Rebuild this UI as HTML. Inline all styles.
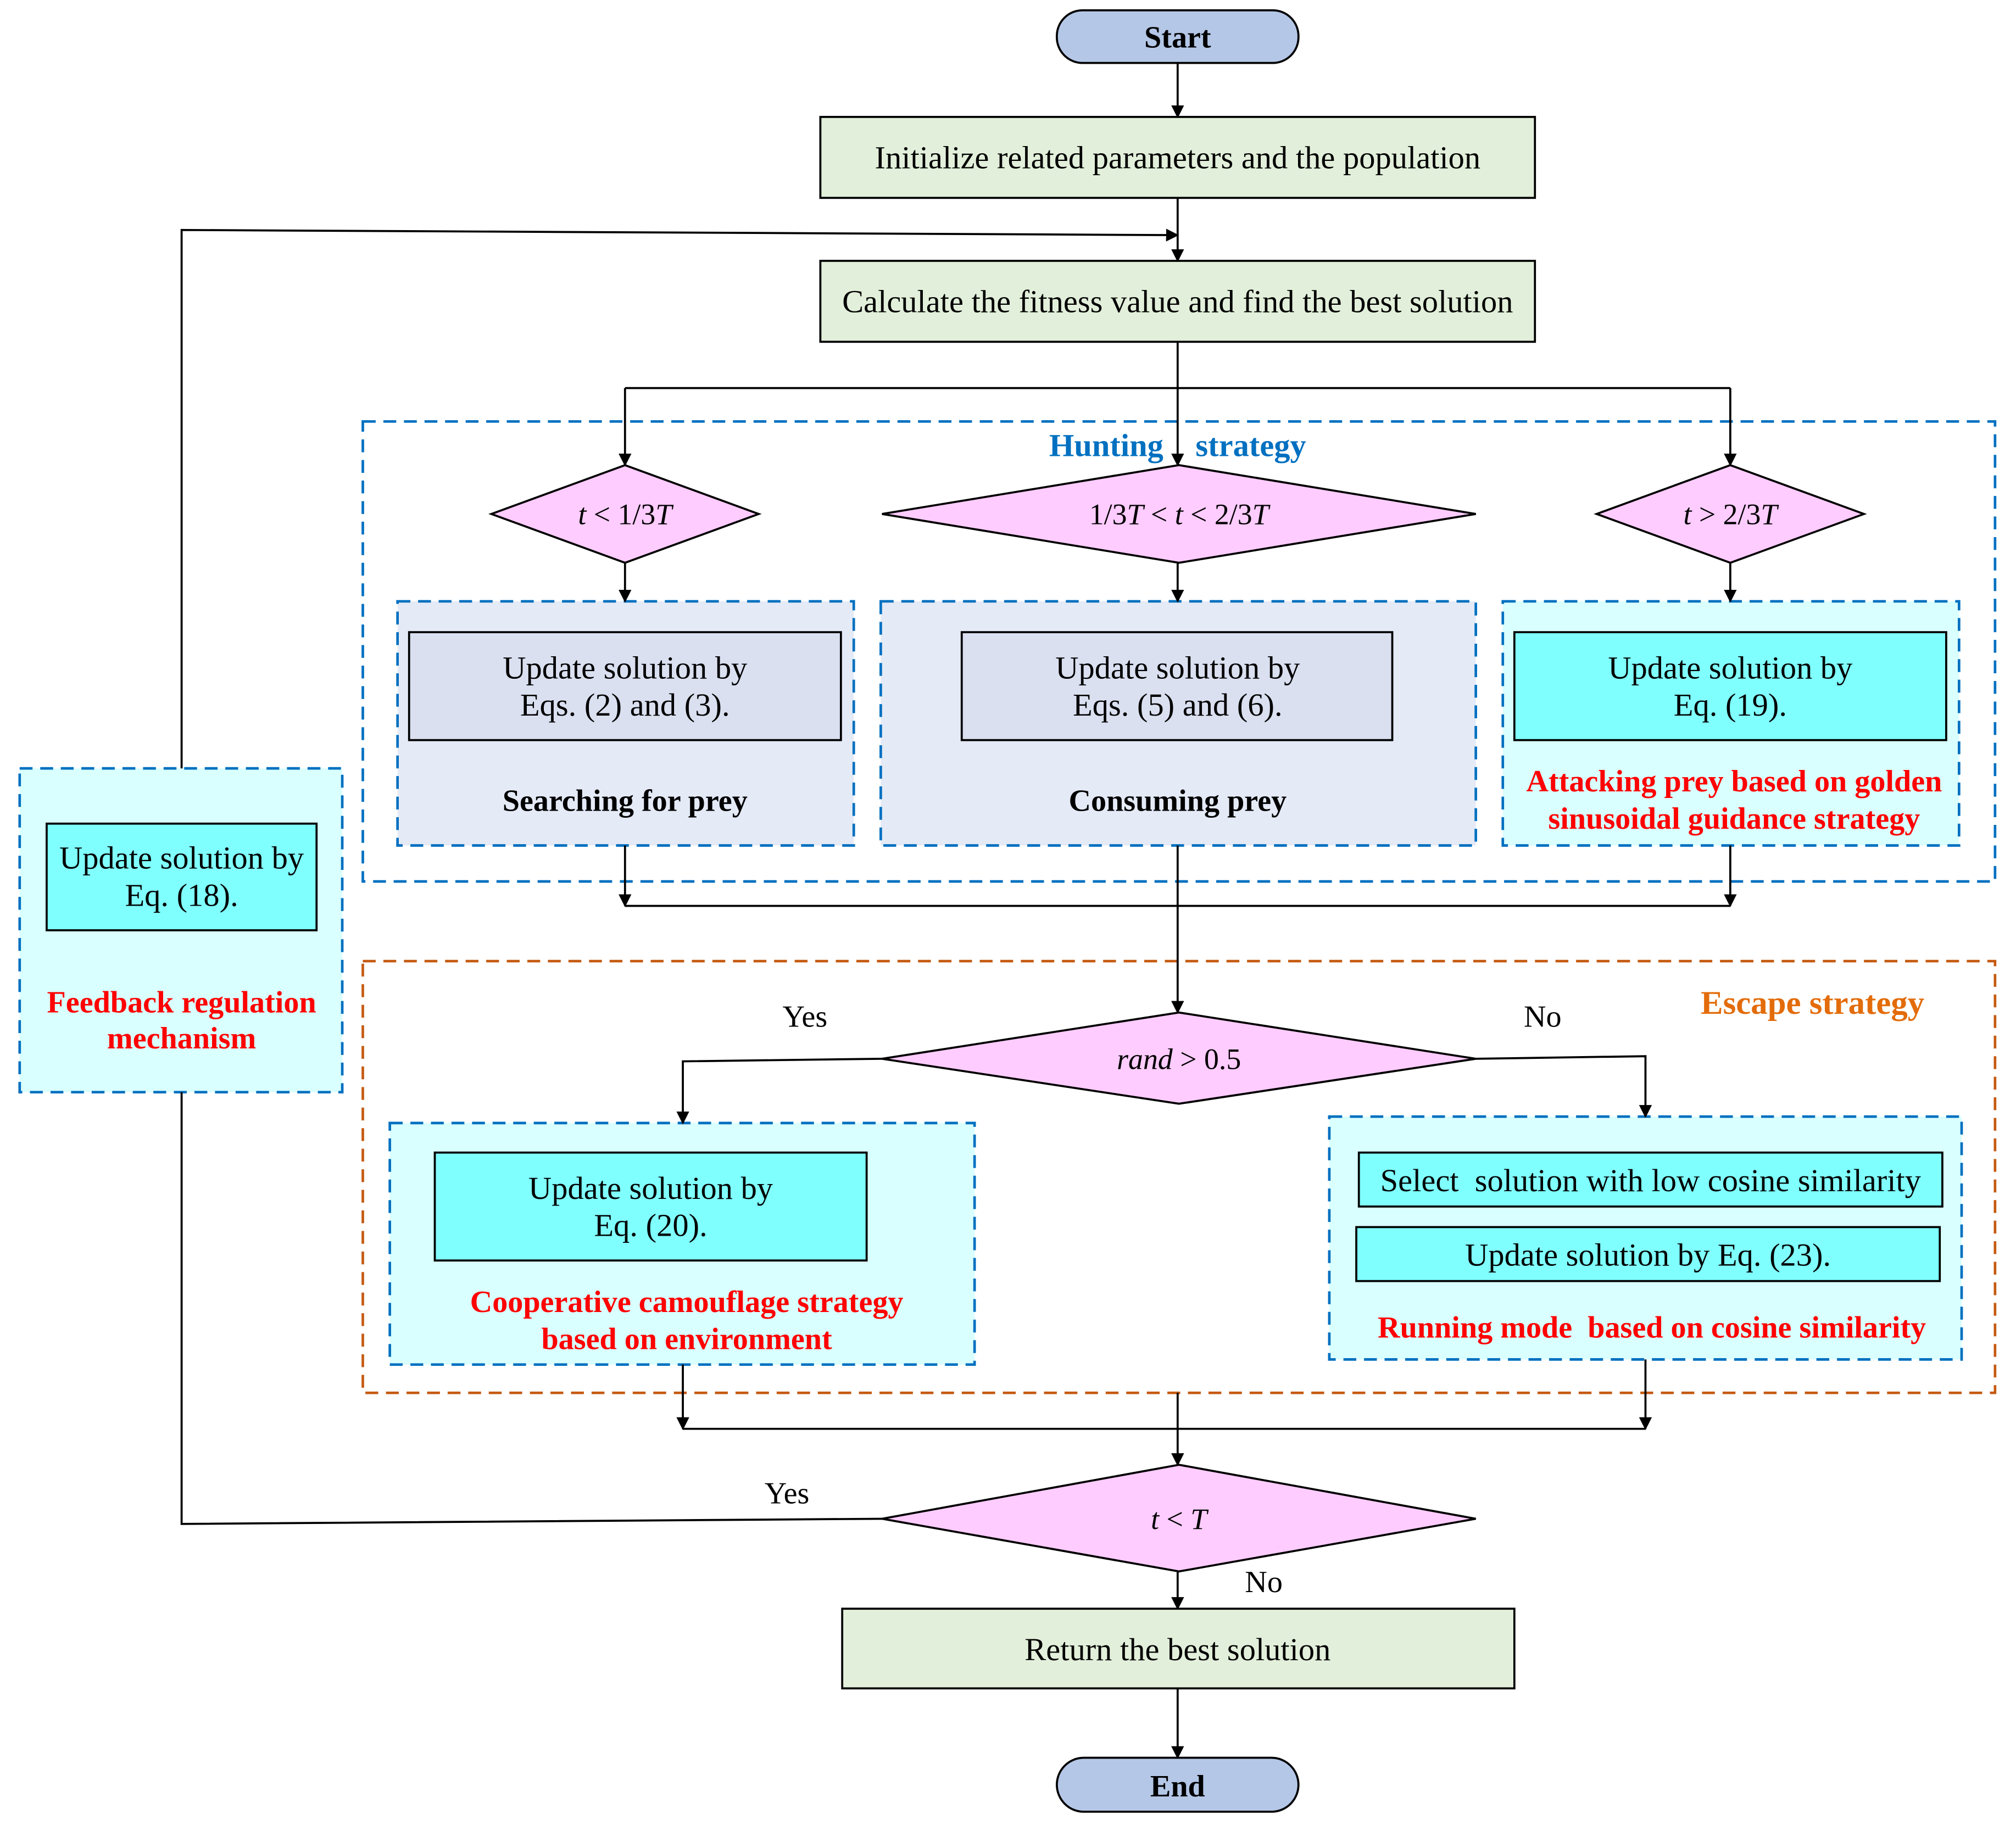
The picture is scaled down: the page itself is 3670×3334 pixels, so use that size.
<!DOCTYPE html>
<html><head><meta charset="utf-8"><style>html,body{margin:0;padding:0;background:#fff}svg{display:block}</style></head>
<body>
<svg width="3670" height="3334" viewBox="0 0 1568 1425" xmlns="http://www.w3.org/2000/svg" font-family="'Liberation Serif', serif" font-size="25">
<defs><marker id="a" markerWidth="10" markerHeight="10" refX="9" refY="5" orient="auto" markerUnits="userSpaceOnUse"><path d="M0,0 L10,5 L0,10 z" fill="#000"/></marker></defs>
<g stroke="#000" stroke-width="1.6" fill="none">
<rect x="282" y="328" width="1270" height="358" stroke="#0070c0" stroke-dasharray="10,6" stroke-width="2"/>
<rect x="282" y="748" width="1270" height="336" stroke="#c55a11" stroke-dasharray="10,6" stroke-width="2"/>
<rect x="309" y="468" width="355" height="190" fill="#e4eaf6" stroke="#0070c0" stroke-dasharray="10,6" stroke-width="2"/>
<rect x="685" y="468" width="463" height="190" fill="#e4eaf6" stroke="#0070c0" stroke-dasharray="10,6" stroke-width="2"/>
<rect x="1169" y="468" width="355" height="190" fill="#d9ffff" stroke="#0070c0" stroke-dasharray="10,6" stroke-width="2"/>
<rect x="15" y="598" width="251" height="252" fill="#d9ffff" stroke="#0070c0" stroke-dasharray="10,6" stroke-width="2"/>
<rect x="303" y="874" width="455" height="188" fill="#d9ffff" stroke="#0070c0" stroke-dasharray="10,6" stroke-width="2"/>
<rect x="1034" y="869" width="492" height="189" fill="#d9ffff" stroke="#0070c0" stroke-dasharray="10,6" stroke-width="2"/>
<rect x="822" y="8" width="188" height="41" rx="20" fill="#b4c7e7"/>
<rect x="638" y="91" width="556" height="63" fill="#e2efda"/>
<rect x="638" y="203" width="556" height="63" fill="#e2efda"/>
<polygon points="382,400 486,362 590,400 486,438" fill="#ffccff"/>
<polygon points="686,400 917,362 1148,400 917,438" fill="#ffccff"/>
<polygon points="1242,400 1346,362 1450,400 1346,438" fill="#ffccff"/>
<rect x="318" y="492" width="336" height="84" fill="#dae0f0"/>
<rect x="748" y="492" width="335" height="84" fill="#dae0f0"/>
<rect x="1178" y="492" width="336" height="84" fill="#80ffff"/>
<rect x="36" y="641" width="210" height="83" fill="#80ffff"/>
<polygon points="686,824 917,788 1148,824 917,859" fill="#ffccff"/>
<rect x="338" y="897" width="336" height="84" fill="#80ffff"/>
<rect x="1057" y="897" width="454" height="42" fill="#80ffff"/>
<rect x="1055" y="955" width="454" height="42" fill="#80ffff"/>
<polygon points="686,1182 917,1140 1148,1182 917,1223" fill="#ffccff"/>
<rect x="655" y="1252" width="523" height="62" fill="#e2efda"/>
<rect x="822" y="1368" width="188" height="42" rx="21" fill="#b4c7e7"/>
<line x1="916" y1="49" x2="916" y2="91" marker-end="url(#a)"/>
<line x1="916" y1="154" x2="916" y2="203" marker-end="url(#a)"/>
<polyline points="141,598 141,179 916,183" marker-end="url(#a)"/>
<polyline points="916,266 916,302"/>
<line x1="486" y1="302" x2="1346" y2="302"/>
<line x1="486" y1="302" x2="486" y2="362" marker-end="url(#a)"/>
<line x1="916" y1="302" x2="916" y2="362" marker-end="url(#a)"/>
<line x1="1346" y1="302" x2="1346" y2="362" marker-end="url(#a)"/>
<line x1="486" y1="438" x2="486" y2="468" marker-end="url(#a)"/>
<line x1="916" y1="438" x2="916" y2="468" marker-end="url(#a)"/>
<line x1="1346" y1="438" x2="1346" y2="468" marker-end="url(#a)"/>
<line x1="486" y1="658" x2="486" y2="705" marker-end="url(#a)"/>
<line x1="1346" y1="658" x2="1346" y2="705" marker-end="url(#a)"/>
<line x1="486" y1="705" x2="1346" y2="705"/>
<line x1="916" y1="658" x2="916" y2="788" marker-end="url(#a)"/>
<polyline points="686,824 531,826 531,874" marker-end="url(#a)"/>
<polyline points="1148,824 1280,822 1280,869" marker-end="url(#a)"/>
<line x1="531" y1="1062" x2="531" y2="1112" marker-end="url(#a)"/>
<line x1="1280" y1="1058" x2="1280" y2="1112" marker-end="url(#a)"/>
<line x1="531" y1="1112" x2="1280" y2="1112"/>
<line x1="916" y1="1084" x2="916" y2="1140" marker-end="url(#a)"/>
<polyline points="686,1182 141,1186 141,850"/>
<line x1="916" y1="1223" x2="916" y2="1252" marker-end="url(#a)"/>
<line x1="916" y1="1314" x2="916" y2="1368" marker-end="url(#a)"/>
</g>
<g text-anchor="middle" fill="#000">
<text x="916" y="37" font-weight="bold" font-size="24">Start</text>
<text x="916" y="131">Initialize related parameters and the population</text>
<text x="916" y="243">Calculate the fitness value and find the best solution</text>
<text x="916" y="355" font-weight="bold" fill="#0070c0" xml:space="preserve">Hunting    strategy</text>
<text x="486" y="408" font-size="23"><tspan font-style="italic">t</tspan> &lt; 1/3<tspan font-style="italic">T</tspan></text>
<text x="917" y="408" font-size="23">1/3<tspan font-style="italic">T</tspan> &lt; <tspan font-style="italic">t</tspan> &lt; 2/3<tspan font-style="italic">T</tspan></text>
<text x="1346" y="408" font-size="23"><tspan font-style="italic">t</tspan> &gt; 2/3<tspan font-style="italic">T</tspan></text>
<text x="486" y="528">Update solution by</text><text x="486" y="557">Eqs. (2) and (3).</text>
<text x="916" y="528">Update solution by</text><text x="916" y="557">Eqs. (5) and (6).</text>
<text x="1346" y="528">Update solution by</text><text x="1346" y="557">Eq. (19).</text>
<text x="486" y="631" font-weight="bold" font-size="24">Searching for prey</text>
<text x="916" y="631" font-weight="bold" font-size="24">Consuming prey</text>
<text x="1349" y="616" font-weight="bold" font-size="24" fill="#ff0000">Attacking prey  based on golden</text>
<text x="1349" y="645" font-weight="bold" font-size="24" fill="#ff0000">sinusoidal guidance strategy</text>
<text x="141" y="676">Update solution by</text><text x="141" y="705">Eq. (18).</text>
<text x="141" y="788" font-weight="bold" font-size="24" fill="#ff0000">Feedback regulation</text>
<text x="141" y="816" font-weight="bold" font-size="24" fill="#ff0000">mechanism</text>
<text x="1410" y="789" font-weight="bold" font-size="26" fill="#e36c0a">Escape strategy</text>
<text x="626" y="799" font-size="24">Yes</text>
<text x="1200" y="799" font-size="24">No</text>
<text x="917" y="832" font-size="23"><tspan font-style="italic">rand</tspan> &gt; 0.5</text>
<text x="506" y="933">Update solution by</text><text x="506" y="962">Eq. (20).</text>
<text x="534" y="1021" font-weight="bold" font-size="24" fill="#ff0000">Cooperative camouflage strategy</text>
<text x="534" y="1050" font-weight="bold" font-size="24" fill="#ff0000">based on environment</text>
<text x="1284" y="927" xml:space="preserve">Select  solution with low cosine similarity</text>
<text x="1282" y="985">Update solution by Eq. (23).</text>
<text x="1285" y="1041" font-weight="bold" font-size="24" fill="#ff0000" xml:space="preserve">Running mode  based on cosine similarity</text>
<text x="612" y="1170" font-size="24">Yes</text>
<text x="917" y="1190" font-size="23"><tspan font-style="italic">t</tspan> &lt; <tspan font-style="italic">T</tspan></text>
<text x="983" y="1239" font-size="24">No</text>
<text x="916" y="1292">Return the best solution</text>
<text x="916" y="1398" font-weight="bold" font-size="24">End</text>
</g>
</svg>
</body></html>
